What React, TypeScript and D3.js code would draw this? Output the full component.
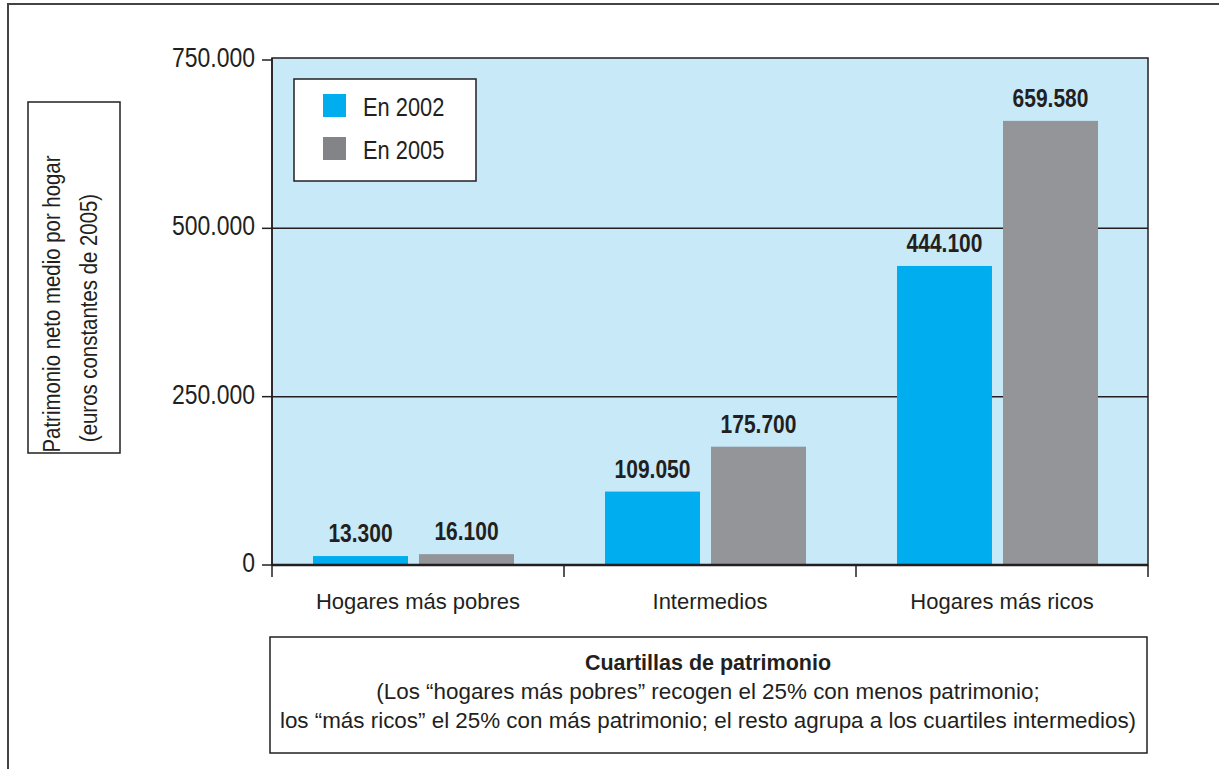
import React, { useEffect, useRef } from 'react';
import * as d3 from 'd3';

const categories = ['Hogares más pobres', 'Intermedios', 'Hogares más ricos'];
const series = ['En 2002', 'En 2005'];
const values2002 = [13300, 109050, 444100];
const values2005 = [16100, 175700, 659580];
const yTicks = [0, 250000, 500000, 750000];
const colors = ['#00AEEF', '#939598'];
const legendColors = ['#00AEEF', '#838488'];
const yTitle = ['Patrimonio neto medio por hogar', '(euros constantes de 2005)'];
const xTitle = 'Cuartillas de patrimonio';
const xNote = [
  '(Los “hogares más pobres” recogen el 25% con menos patrimonio;',
  'los “más ricos” el 25% con más patrimonio; el resto agrupa a los cuartiles intermedios)',
];

const ink = '#231F20';
const sans = '"Liberation Sans", Arial, sans-serif';

export default function App() {
  const ref = useRef<SVGSVGElement>(null);

  useEffect(() => {
    const width = 1219, height = 769;
    const left = 272, right = 1148, top = 58, bottom = 565;
    const svg = d3.select(ref.current);
    svg.selectAll('*').remove();

    const fmt = d3.formatLocale({ decimal: ',', thousands: '.', grouping: [3], currency: ['', '€'] }).format(',');

    const x0 = d3.scaleBand().domain(categories).range([left, right]).padding(0);
    const x1 = d3.scaleBand().domain(series).range([41, 242]).paddingInner(0.104);
    const y = d3.scaleLinear().domain([0, 750000]).range([bottom, 60]);

    // outer frame
    svg.append('rect')
      .attr('x', 8).attr('y', 4).attr('width', width + 20).attr('height', height + 20)
      .attr('fill', 'white').attr('stroke', '#444').attr('stroke-width', 2);

    // plot background
    svg.append('rect')
      .attr('x', left).attr('y', top).attr('width', right - left).attr('height', bottom - top)
      .attr('fill', '#C7E9F8').attr('stroke', ink).attr('stroke-width', 1.5);

    // grid lines
    svg.append('g').selectAll('line')
      .data(yTicks.filter(d => d > 0 && d < 750000))
      .join('line')
      .attr('x1', left).attr('x2', right)
      .attr('y1', d => y(d)).attr('y2', d => y(d))
      .attr('stroke', ink).attr('stroke-width', 1.5);

    // bars
    const data = categories.map((c, i) => ({ cat: c, vals: [values2002[i], values2005[i]] }));
    const groups = svg.append('g').selectAll('g')
      .data(data)
      .join('g')
      .attr('transform', d => `translate(${x0(d.cat)},0)`);

    groups.selectAll('rect')
      .data(d => d.vals.map((v, j) => ({ s: series[j], v, j })))
      .join('rect')
      .attr('x', d => x1(d.s)!)
      .attr('width', x1.bandwidth())
      .attr('y', d => y(d.v))
      .attr('height', d => y(0) - y(d.v))
      .attr('fill', d => colors[d.j]);

    // value labels (condensed look)
    groups.selectAll('text')
      .data(d => d.vals.map((v, j) => ({ s: series[j], v, j })))
      .join('text')
      .attr('transform', d => `translate(${x1(d.s)! + x1.bandwidth() / 2},${y(d.v) - 14}) scale(0.84,1)`)
      .attr('text-anchor', 'middle')
      .attr('font-family', sans)
      .attr('font-weight', 'bold')
      .attr('font-size', 25)
      .attr('fill', ink)
      .text(d => fmt(d.v));

    // baseline
    svg.append('line')
      .attr('x1', left).attr('x2', right).attr('y1', y(0)).attr('y2', y(0))
      .attr('stroke', ink).attr('stroke-width', 2.5);

    // y axis
    svg.append('line')
      .attr('x1', left).attr('x2', left).attr('y1', top).attr('y2', bottom)
      .attr('stroke', ink).attr('stroke-width', 1.5);
    const yAxis = svg.append('g');
    yAxis.selectAll('line')
      .data(yTicks)
      .join('line')
      .attr('x1', left - 10).attr('x2', left)
      .attr('y1', d => y(d)).attr('y2', d => y(d))
      .attr('stroke', ink).attr('stroke-width', 1.5);
    yAxis.selectAll('text')
      .data(yTicks)
      .join('text')
      .attr('transform', d => `translate(255,${y(d) + 7}) scale(0.82,1)`)
      .attr('text-anchor', 'end')
      .attr('font-family', sans)
      .attr('font-size', 28)
      .attr('fill', ink)
      .text(d => fmt(d));

    // x axis ticks and labels
    const xTickPos = categories.map(c => x0(c)!).concat([right]);
    svg.append('g').selectAll('line')
      .data(xTickPos)
      .join('line')
      .attr('x1', d => d).attr('x2', d => d)
      .attr('y1', y(0)).attr('y2', y(0) + 12)
      .attr('stroke', ink).attr('stroke-width', 1.5);
    svg.append('g').selectAll('text')
      .data(categories)
      .join('text')
      .attr('x', d => x0(d)! + x0.bandwidth() / 2)
      .attr('y', 609)
      .attr('text-anchor', 'middle')
      .attr('font-family', sans)
      .attr('font-size', 22)
      .attr('fill', ink)
      .text(d => d);

    // legend
    const legend = svg.append('g');
    legend.append('rect')
      .attr('x', 294).attr('y', 79).attr('width', 182).attr('height', 102)
      .attr('fill', 'white').attr('stroke', ink).attr('stroke-width', 1.5);
    series.forEach((s, i) => {
      legend.append('rect')
        .attr('x', 323).attr('y', 94 + i * 43).attr('width', 23).attr('height', 23)
        .attr('fill', legendColors[i]);
      legend.append('text')
        .attr('transform', `translate(363,${116 + i * 43}) scale(0.84,1)`)
        .attr('font-family', sans)
        .attr('font-size', 26)
        .attr('fill', ink)
        .text(s);
    });

    // y title box
    svg.append('rect')
      .attr('x', 28).attr('y', 102).attr('width', 92).attr('height', 351)
      .attr('fill', 'white').attr('stroke', ink).attr('stroke-width', 1.5);
    svg.append('g').selectAll('text')
      .data(yTitle)
      .join('text')
      .attr('transform', (d, i) => `translate(${i === 0 ? 60 : 97},${i === 0 ? 304 : 318}) rotate(-90) scale(0.85,1)`)
      .attr('text-anchor', 'middle')
      .attr('font-family', sans)
      .attr('font-size', 24)
      .attr('fill', ink)
      .text(d => d);

    // x title box
    svg.append('rect')
      .attr('x', 270).attr('y', 637).attr('width', 877).attr('height', 116)
      .attr('fill', 'white').attr('stroke', ink).attr('stroke-width', 1.5);
    svg.append('text')
      .attr('x', 708).attr('y', 670)
      .attr('text-anchor', 'middle')
      .attr('font-family', sans)
      .attr('font-weight', 'bold')
      .attr('font-size', 21.5)
      .attr('fill', ink)
      .text(xTitle);
    svg.append('g').selectAll('text')
      .data(xNote)
      .join('text')
      .attr('x', 708)
      .attr('y', (d, i) => 699 + i * 29)
      .attr('text-anchor', 'middle')
      .attr('font-family', sans)
      .attr('font-size', 22.4)
      .attr('fill', ink)
      .text(d => d);
  }, []);

  return (
    <svg ref={ref} width={1219} height={769}
      style={{ position: 'absolute', left: 0, top: 0, display: 'block' }} />
  );
}
